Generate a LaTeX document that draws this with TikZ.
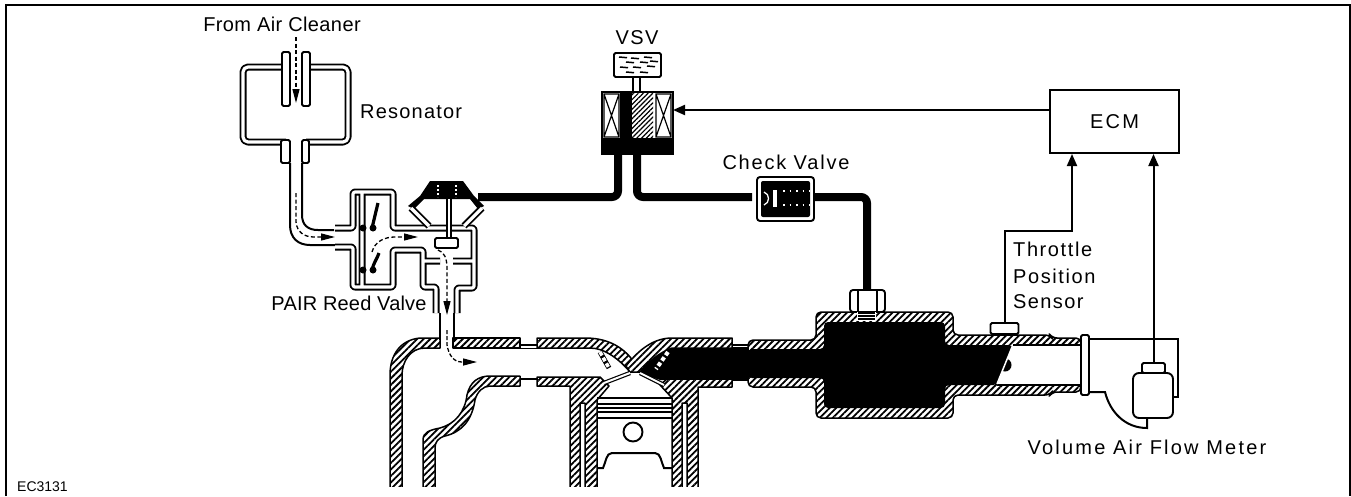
\documentclass[tikz,border=0pt]{standalone}
\usepackage{fontspec}
\setmainfont{Liberation Sans}
\usetikzlibrary{arrows.meta,patterns.meta}

\begin{document}
\begin{tikzpicture}[
    x=1pt, y=-1pt,
    label text/.style={font=\fontsize{20}{20}\selectfont\addfontfeature{LetterSpace=#1}, inner sep=0pt},
    frame line/.style={line width=2pt},
    air wall/.style={line width=1.9pt, double=white, double distance=3.2pt, line join=round, rounded corners=2pt},
    thin wall/.style={line width=2pt},
    tube end/.style={line width=1.9pt, fill=white, rounded corners=1.5pt},
    vacuum hose/.style={line width=8pt, rounded corners=6pt},
    hatched/.style={draw, line width=1.5pt, line join=round, preaction={fill=white},
        pattern={Lines[angle=45,distance=4.6pt,line width=1.8pt]}},
    signal/.style={line width=2pt, -{Triangle[length=12pt,width=10pt]}},
    flow/.style={line width=1.3pt, dash pattern=on 4pt off 2.5pt, -{Triangle[length=14pt,width=7pt]}},
    part box/.style={draw, line width=1.9pt, fill=white, inner sep=0pt, rounded corners=1.5pt}
]
\useasboundingbox (0,0) rectangle (1351,496);

% Frame
\draw[frame line] (6,496) -- (6,5) -- (1350,5) -- (1350,496);

% Intake passage
\fill (640,373) -- (655,347) -- (748,347) -- (748,380) -- (660,380) -- cycle;
\draw[hatched, rounded corners=5pt] (748,340) -- (816,340) -- (816,312) -- (953,312) -- (953,335) -- (1050,335) -- (1052,338) -- (1081,338)
    -- (1081,392) -- (1052,392) -- (1050,395) -- (953,395) -- (953,418) -- (816,418) -- (816,387) -- (748,387) -- cycle;
\fill[rounded corners=4pt] (748,349) -- (824,349) -- (824,322) -- (945,322) -- (945,345) -- (1013,345) -- (997,385)
    -- (945,385) -- (945,408) -- (824,408) -- (824,378) -- (748,378) -- cycle;
\fill[white] (1013,345) -- (1081,345) -- (1081,385) -- (997,385) -- cycle;
\draw[thin wall] (1013,345) -- (1081,345) (997,385) -- (1081,385);

% Throttle valve
\fill (1005,365) circle (6.5);
\draw[white, line width=1.5pt] (1012,347) -- (997,384);

% Runner walls
\draw[hatched] (453,338) -- (520,338) -- (520,348) -- (453,348) -- cycle;
\draw[hatched] (537,338) -- (585,338) .. controls (605,338) and (622,345) .. (634,362) -- (630,372) .. controls (620,360) and (605,348) .. (590,348) -- (537,348) -- cycle;
\draw[hatched] (626,366) .. controls (640,348) and (655,338) .. (672,338) -- (732,338) -- (732,348) -- (672,348) .. controls (660,352) and (648,362) .. (640,372) -- (630,372) -- cycle;
\draw[hatched] (440,338) -- (420,338) .. controls (400,340) and (390,355) .. (390,375) -- (390,495) -- (402,495) -- (402,375) .. controls (402,362) and (410,348) .. (425,348) -- (440,348) -- cycle;
\draw[hatched] (423,495) -- (423,440) .. controls (423,432) and (430,430) .. (440,428) .. controls (455,424) and (465,412) .. (467,395) .. controls (470,382) and (478,376) .. (490,376) -- (520,376) -- (520,386) -- (490,386) .. controls (483,386) and (477,392) .. (475,400) .. controls (472,420) and (462,432) .. (445,436) .. controls (438,438) and (435,442) .. (435,448) -- (435,495) -- cycle;
\draw[line width=1.5pt] (453,348) -- (520,348) (520,345) -- (537,345) (520,348.5) -- (537,348.5) (520,379) -- (537,379) (732,345) -- (748,345) (732,380) -- (748,380);

% Cylinder block
\draw[hatched] (537,377) -- (600,377) -- (609,386) -- (597,400) -- (597,495) -- (585,495) -- (585,403) -- (580,403) -- (580,495) -- (570,495) -- (570,386) -- (537,386) -- cycle;
\draw[hatched] (732,379) -- (667,379) -- (660,385) -- (672,398) -- (672,495) -- (682,495) -- (682,403) -- (687,403) -- (687,495) -- (698,495) -- (698,387) -- (732,387) -- cycle;
\fill[white] (380,487) rectangle (705,500);

% Valves
\draw[line width=5pt] (600,352) -- (609,368);
\draw[white, line width=3.5pt, dash pattern=on 4pt off 2.5pt] (600,352) -- (609,368);
\draw[white, line width=4pt, dash pattern=on 4pt off 2.5pt] (668,352) -- (656,369);
\draw[line width=1.2pt, double=white, double distance=2pt] (604,383) -- (630,373) (640,373) -- (664,385);

% Piston
\draw[line width=2.6pt] (597,398) -- (672,398);
\foreach \ringy/\ringw in {404/1.2, 408/1.2, 412/2, 418/2} {
    \draw[line width=\ringw pt] (597,\ringy) -- (672,\ringy);
}
\draw[line width=1.9pt] (633,432) circle (9.5);
\draw[thin wall] (597,468) -- (603,468) .. controls (606,462) and (606,453) .. (612,453) -- (655,453) .. controls (661,453) and (661,462) .. (664,468) -- (672,468);

% Resonator
\draw[air wall, rounded corners=5pt] (286,67) -- (243,67) -- (243,142) -- (286,142) (306,67) -- (348,67) -- (348,142) -- (306,142);
\draw[tube end] (282,52) rectangle (290,106);
\draw[tube end] (302,52) rectangle (310,106);
\draw[tube end] (281,140) rectangle (290,163);
\draw[tube end] (302,140) rectangle (309,163);
\fill[white] (291,138) rectangle (301,148);

% Pipe to reed valve
\draw[thin wall] (290,163) -- (290,225) .. controls (290,238) and (298,245) .. (310,245) -- (336,245);
\draw[thin wall] (302,163) -- (302,215) .. controls (302,225) and (308,230) .. (318,230) -- (334,230);

% PAIR reed valve
\draw[air wall] (335,228) -- (353,228) -- (353,192) -- (393,192) -- (393,228) -- (474,228) -- (474,288) -- (457,288) -- (457,313)
    (335,247) -- (353,247) -- (353,287) -- (393,287) -- (393,250) -- (423,250) -- (423,287) -- (436,287) -- (436,313)
    (423,261) -- (440,261) (453,261) -- (474,261)
    (362,192) -- (362,287);
\draw[thin wall] (440,313) -- (440,340) (454,313) -- (454,340);
\foreach \reedy/\reedx/\reedtop in {228/378/203, 270/379/253} {
    \fill (363,\reedy) circle (3.5) (373,\reedy) circle (3.5);
    \draw[line width=3.2pt] (372,\reedy) .. controls (374,\reedy-8) and (376,\reedtop+8) .. (\reedx,\reedtop);
}

% Diaphragm
\fill[line join=round] (408,206) -- (420,196) -- (430,181) -- (463,181) -- (474,196) -- (484,206) -- (478,209) -- (470,199) -- (424,199) -- (414,209) -- cycle;
\draw[white, line width=1.2pt, dash pattern=on 2pt off 2pt] (438,185) -- (438,197) (456,185) -- (456,197);
\draw[air wall] (411,208) -- (429,226) (482,208) -- (464,226);
\draw[line width=1.6pt, double=white, double distance=2.4pt] (449,199) -- (449,239);
\draw[tube end] (435,238) rectangle (458,248);

% Vacuum hoses
\draw[vacuum hose] (478,197) -- (618,197) -- (618,150);
\draw[vacuum hose] (637,150) -- (637,197) -- (752,197);
\draw[vacuum hose] (810,197) -- (867,197) -- (867,295);

% Check valve
\draw[tube end, rounded corners=3pt] (757,177) rectangle (814,221);
\fill[rounded corners=2pt] (761,181) rectangle (810,217);
\draw[white, line width=1.3pt] (764,192) .. controls (770,194) and (770,203) .. (764,205);
\fill[white] (773,190) rectangle (777,207);
\draw[white, line width=1.2pt, dash pattern=on 1.5pt off 5pt] (783,191) -- (810,191) (783,205) -- (810,205);

% Hose fitting
\draw[tube end, rounded corners=3pt] (850,290) rectangle (885,312);
\draw[thin wall] (858,290) -- (858,312) (877,290) -- (877,312);
\fill[white] (857,312) rectangle (876,321);
\foreach \thready in {313,316,319} {
    \draw[line width=1.2pt] (858,\thready) -- (875,\thready);
}

% VSV
\node[part box, minimum width=47pt, minimum height=24pt] (filter) at (637.5,65) {};
\foreach \dashx/\dashy in {619/57, 631/58, 644/57, 626/62, 640/62, 650/61, 620/67, 633/67, 647/66, 626/72, 640/72} {
    \draw[line width=1.5pt] (\dashx,\dashy) -- (\dashx+8,\dashy+0.7);
}
\draw[thin wall] (633,77) -- (633,92) (640,77) -- (640,92);
\node[part box, rounded corners=0pt, minimum width=71pt, minimum height=62pt] (vsv) at (637.5,123) {};
\fill (602,138) rectangle (673,154);
\fill (620,92) rectangle (632,138);
\fill[white, pattern={Lines[angle=45,distance=3.4pt,line width=1.2pt]}] (632,93) rectangle (653,138);
\foreach \coilleft/\coilright in {604/619, 656/671} {
    \draw[line width=1.2pt] (\coilleft,94) rectangle (\coilright,137) (\coilleft,94) -- (\coilright,137) (\coilright,94) -- (\coilleft,137);
}

% ECM and signal lines
\node[part box, rounded corners=0pt, label text=11, line width=2pt, minimum width=129pt, minimum height=63pt] (ecm) at (1114.5,121.5) {ECM};
\node[part box, minimum width=28pt, minimum height=11pt] (tpscap) at (1004.5,328.5) {};
\node[part box, rounded corners=6pt, minimum width=40pt, minimum height=45pt] (meter) at (1153,395.5) {};
\node[part box, minimum width=23pt, minimum height=10pt] (metercap) at (1153.5,368) {};
\coordinate (vsvinput) at (673,110);
\coordinate (tpsbend) at (1072,231);
\draw[signal] (vsvinput -| ecm.west) -- (vsvinput);
\draw[signal] (tpscap.north) |- (tpsbend) -- (tpsbend |- ecm.south);
\draw[signal] (metercap.north) -- (metercap.north |- ecm.south);

% Air flow meter housing
\draw[thin wall] (1089,339) -- (1178,339) -- (1178,397) -- (1173,397);
\draw[thin wall] (1089,392) -- (1105,392) .. controls (1110,412) and (1125,428) .. (1147,428) -- (1147,418);
\draw[tube end] (1081,335) rectangle (1089,395);

% Air flow arrows
\draw[flow] (296,37) -- (296,103);
\draw[flow] (296,193) -- (296,222) .. controls (297,232) and (304,237) .. (314,237) -- (335,237);
\draw[flow] (372,252) .. controls (375,241) and (385,237) .. (395,237) -- (418,237);
\draw[flow] (438,250) .. controls (444,252) and (447,258) .. (447,268) -- (447,315);
\draw[flow, dash pattern=on 4pt off 2pt] (447,330) -- (447,345) .. controls (449,356) and (454,362) .. (462,362) -- (477,362);

% Labels
\node[label text=2] (aircleaner) at (282,24) {From Air Cleaner};
\node[label text=6, anchor=west] (resonator) at (360,112) {Resonator};
\node[label text=7] (vsvlabel) at (637,38) {VSV};
\node[label text=9] (checkvalve) at (786,162) {Check Valve};
\node[label text=1] (pairvalve) at (349,303) {PAIR Reed Valve};
\node[label text=8, anchor=west] (tpslabel1) at (1013,249) {Throttle};
\node[label text=8, anchor=west] (tpslabel2) at (1013,276) {Position};
\node[label text=7, anchor=west] (tpslabel3) at (1013,302) {Sensor};
\node[label text=11] (meterlabel) at (1147,447) {Volume Air Flow Meter};
\node[font=\fontsize{14}{14}\selectfont, inner sep=0pt, anchor=west] (figcode) at (17,487) {EC3131};

\end{tikzpicture}
\end{document}
